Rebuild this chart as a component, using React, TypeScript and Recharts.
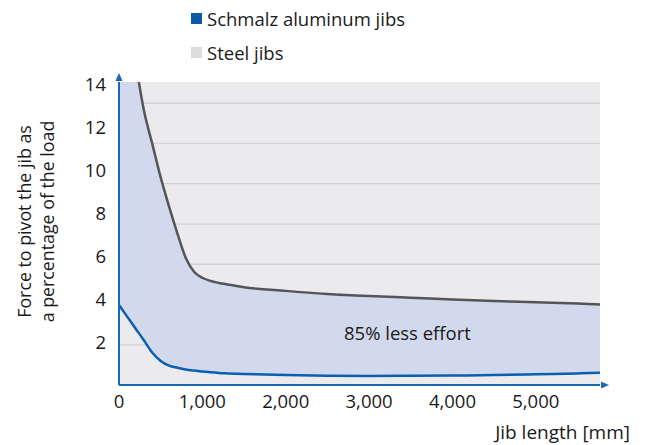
import React from 'react';
import {
  ComposedChart, Area, Line, XAxis, YAxis, CartesianGrid, ReferenceDot, Legend,
} from 'recharts';

// jib length in mm
const jibLength = [0, 100, 200, 300, 400, 500, 600, 700, 800, 900, 1000, 1100, 1200, 1300, 1500, 2000, 2500, 3000, 3500, 4000, 4500, 5000, 5500, 5770];
// force in % of load
const steelForce = [20.5, 17.6, 15.0, 12.76, 11.21, 9.66, 8.31, 7.06, 5.92, 5.27, 4.99, 4.84, 4.75, 4.68, 4.55, 4.38, 4.24, 4.14, 4.06, 3.98, 3.91, 3.85, 3.79, 3.75];
const aluminumForce = [3.72, 3.17, 2.62, 2.07, 1.5, 1.12, 0.9, 0.8, 0.72, 0.67, 0.63, 0.59, 0.56, 0.54, 0.51, 0.46, 0.43, 0.42, 0.43, 0.44, 0.46, 0.5, 0.54, 0.57];

const xTicks = [0, 1000, 2000, 3000, 4000, 5000];
const yTicks = [2, 4, 6, 8, 10, 12, 14];
// background rules of the drawing (they do not sit on the labelled ticks)
const gridLevels = [0.94, 1.87, 2.81, 3.75, 4.68, 5.62, 6.56, 7.49, 8.43, 9.37, 10.3, 11.24, 12.17, 13.11];

const legendItems = [
  { name: 'Schmalz aluminum jibs', color: '#0a5aa8' },
  { name: 'Steel jibs', color: '#dcdcde' },
];

const note = { x: 3460, y: 2.42, text: '85% less effort' };

const X_MAX = 5770;
const Y_MAX = 14.1;

const data = jibLength.map((x, i) => ({
  x,
  steel: steelForce[i],
  aluminum: aluminumForce[i],
  band: [aluminumForce[i], steelForce[i]],
}));

const FONT = '"Open Sans", sans-serif';
const AXIS_BLUE = '#1a67b2';
const TEXT = '#1a1a1a';

const LegendBox = () => (
  <div style={{ fontFamily: FONT, fontSize: 18.5, color: TEXT }}>
    {legendItems.map((item) => (
      <div key={item.name} style={{ display: 'flex', alignItems: 'center', height: 34 }}>
        <span style={{ width: 11, height: 11, background: item.color, marginRight: 5, display: 'inline-block' }} />
        <span>{item.name}</span>
      </div>
    ))}
  </div>
);

const YTitle = (props: any) => {
  const vb = props.viewBox;
  const cy = vb.y + vb.height / 2 - 12;
  return (
    <g fontFamily={FONT} fontSize={17.8} fill={TEXT} textAnchor="middle">
      <text x={31} y={cy} transform={`rotate(-90, 31, ${cy})`}>Force to pivot the jib as</text>
      <text x={54} y={cy} transform={`rotate(-90, 54, ${cy})`}>a percentage of the load</text>
    </g>
  );
};

const XTitle = (props: any) => {
  const vb = props.viewBox;
  return (
    <text x={vb.x + vb.width + 30} y={vb.y + 54} textAnchor="end" fontFamily={FONT} fontSize={19} fill={TEXT}>
      Jib length [mm]
    </text>
  );
};

const UpArrow = (props: any) => {
  const { cx, cy } = props;
  return <polygon points={`${cx},${cy - 9} ${cx - 3.5},${cy - 1} ${cx + 3.5},${cy - 1}`} fill={AXIS_BLUE} />;
};

const RightArrow = (props: any) => {
  const { cx, cy } = props;
  return <polygon points={`${cx + 9},${cy} ${cx + 1},${cy - 3.5} ${cx + 1},${cy + 3.5}`} fill={AXIS_BLUE} />;
};

export default function App() {
  return (
    <div style={{ position: 'absolute', left: 0, top: 0, width: 645, height: 445, background: '#fff' }}>
      <ComposedChart
        width={645}
        height={445}
        data={data}
        margin={{ top: 82, right: 45, bottom: 0, left: 0 }}
        style={{ fontFamily: FONT }}
      >
        <CartesianGrid
          vertical={false}
          horizontalValues={gridLevels}
          fill="#ebebee"
          fillOpacity={1}
          stroke="#d3d3d7"
          strokeWidth={1.3}
        />
        <XAxis
          dataKey="x"
          type="number"
          domain={[0, X_MAX]}
          ticks={xTicks}
          tickFormatter={(v: number) => v.toLocaleString('en-US')}
          tickLine={false}
          tickMargin={4}
          axisLine={{ stroke: AXIS_BLUE, strokeWidth: 2 }}
          tick={{ fill: TEXT, fontSize: 18.5 }}
          height={60}
          label={<XTitle />}
        />
        <YAxis
          type="number"
          domain={[0, Y_MAX]}
          allowDataOverflow
          ticks={yTicks}
          tickLine={false}
          tickMargin={7}
          axisLine={{ stroke: AXIS_BLUE, strokeWidth: 2 }}
          tick={{ fill: TEXT, fontSize: 18.5 }}
          width={119}
          label={<YTitle />}
        />
        <Area
          dataKey="band"
          type="monotone"
          fill="#d3d9ec"
          fillOpacity={1}
          stroke="none"
          isAnimationActive={false}
        />
        <Line dataKey="steel" type="monotone" stroke="#555558" strokeWidth={2.5} dot={false} isAnimationActive={false} />
        <Line dataKey="aluminum" type="monotone" stroke="#0a5fae" strokeWidth={2.5} dot={false} isAnimationActive={false} />
        <ReferenceDot
          x={note.x}
          y={note.y}
          r={0}
          ifOverflow="visible"
          label={{ value: note.text, position: 'center', fill: TEXT, fontSize: 18.5 }}
        />
        <ReferenceDot x={0} y={Y_MAX} ifOverflow="visible" shape={<UpArrow />} />
        <ReferenceDot x={X_MAX} y={0} ifOverflow="visible" shape={<RightArrow />} />
        <Legend
          layout="vertical"
          verticalAlign="middle"
          align="center"
          wrapperStyle={{ top: 1, left: 191, width: 'auto' }}
          content={<LegendBox />}
        />
      </ComposedChart>
    </div>
  );
}
